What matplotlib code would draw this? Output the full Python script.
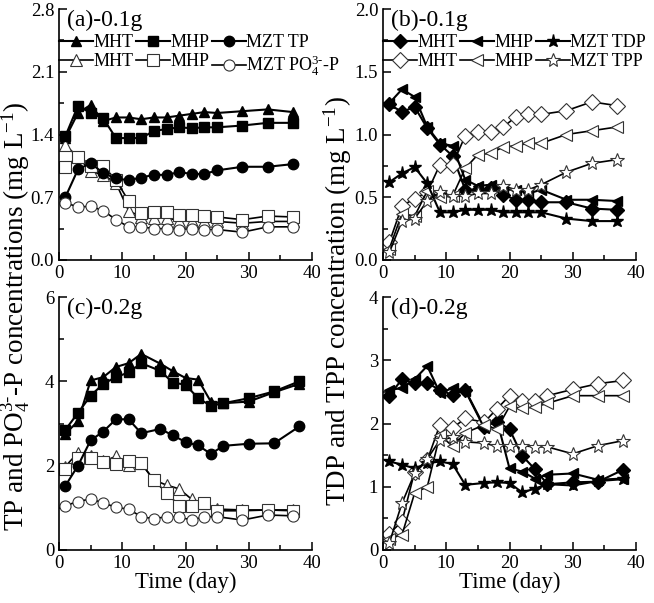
import matplotlib
matplotlib.use('Agg')
import matplotlib.pyplot as plt
from matplotlib.ticker import MultipleLocator

plt.rcParams['font.family'] = ['Liberation Serif', 'DejaVu Serif']
plt.rcParams['mathtext.fontset'] = 'custom'
plt.rcParams['mathtext.rm'] = 'Liberation Serif'
plt.rcParams['mathtext.it'] = 'Liberation Serif:italic'

# days
days_a = [1, 3, 5, 7, 9, 11, 13, 15, 17, 19, 21, 23, 25, 29, 33, 37]
days_c_filled = [1, 3, 5, 7, 9, 11, 13, 16, 18, 20, 22, 24, 26, 30, 34, 38]
days_c_open = [1, 3, 5, 7, 9, 11, 13, 15, 17, 19, 21, 23, 25, 29, 33, 37]
days_d = [1, 3, 5, 7, 9, 11, 13, 16, 18, 20, 22, 24, 26, 30, 34, 38]

# (a) 0.1g: TP (filled) and PO4-P (open)
a_mht_tp = [1.36, 1.64, 1.73, 1.55, 1.59, 1.59, 1.57, 1.59, 1.59, 1.61, 1.63, 1.65, 1.64, 1.66, 1.68, 1.65]
a_mhp_tp = [1.38, 1.72, 1.64, 1.58, 1.36, 1.36, 1.36, 1.44, 1.46, 1.48, 1.47, 1.48, 1.48, 1.50, 1.53, 1.53]
a_mzt_tp = [0.70, 1.01, 1.08, 0.97, 0.91, 0.89, 0.92, 0.95, 0.95, 0.98, 0.96, 0.96, 1.00, 1.04, 1.04, 1.07]
a_mht_po4 = [1.28, 1.15, 0.99, 0.95, 0.86, 0.55, 0.48, 0.47, 0.47, 0.44, 0.44, 0.43, 0.43, 0.41, 0.43, 0.43]
a_mhp_po4 = [1.04, 1.15, 1.05, 1.05, 0.89, 0.66, 0.52, 0.54, 0.54, 0.50, 0.50, 0.49, 0.48, 0.45, 0.49, 0.48]
a_mzt_po4 = [0.64, 0.59, 0.60, 0.55, 0.45, 0.37, 0.37, 0.35, 0.35, 0.34, 0.35, 0.34, 0.34, 0.31, 0.37, 0.37]

# (b) 0.1g: TDP (filled) and TPP (open)
b_mht_tdp = [1.24, 1.18, 1.22, 1.05, 0.92, 0.83, 0.56, 0.56, 0.57, 0.52, 0.48, 0.48, 0.46, 0.46, 0.41, 0.40]
b_mhp_tdp = [1.25, 1.36, 1.30, 1.06, 0.93, 0.91, 0.64, 0.59, 0.60, 0.56, 0.56, 0.53, 0.56, 0.48, 0.48, 0.47]
b_mzt_tdp = [0.62, 0.69, 0.74, 0.61, 0.38, 0.38, 0.40, 0.40, 0.40, 0.38, 0.38, 0.38, 0.38, 0.33, 0.31, 0.31]
b_mht_tpp = [0.14, 0.43, 0.49, 0.54, 0.76, 0.76, 0.99, 1.02, 1.02, 1.06, 1.14, 1.16, 1.16, 1.19, 1.26, 1.23]
b_mhp_tpp = [0.09, 0.37, 0.35, 0.55, 0.50, 0.51, 0.73, 0.84, 0.85, 0.90, 0.91, 0.93, 0.93, 1.00, 1.03, 1.06]
b_mzt_tpp = [0.06, 0.31, 0.33, 0.47, 0.54, 0.51, 0.51, 0.53, 0.53, 0.59, 0.56, 0.56, 0.60, 0.70, 0.77, 0.80]

# (c) 0.2g
c_mht_tp = [2.76, 3.05, 4.02, 4.10, 4.34, 4.43, 4.65, 4.42, 4.24, 4.08, 4.04, 3.52, 3.48, 3.52, 3.74, 3.94]
c_mhp_tp = [2.85, 3.25, 3.66, 3.94, 4.10, 4.21, 4.43, 4.25, 3.97, 3.92, 3.60, 3.42, 3.48, 3.60, 3.76, 4.00]
c_mzt_tp = [1.52, 2.00, 2.60, 2.81, 3.10, 3.10, 2.77, 2.87, 2.72, 2.56, 2.48, 2.28, 2.47, 2.52, 2.53, 2.93]
c_mht_po4 = [1.98, 2.31, 2.22, 2.10, 2.22, 2.02, 2.06, 1.66, 1.54, 1.45, 1.20, 1.11, 0.97, 0.95, 0.95, 0.95]
c_mhp_po4 = [1.92, 2.18, 2.18, 2.08, 2.04, 2.12, 2.06, 1.65, 1.36, 1.05, 1.05, 1.11, 0.93, 0.93, 0.95, 0.93]
c_mzt_po4 = [1.05, 1.15, 1.21, 1.12, 1.01, 0.97, 0.79, 0.74, 0.79, 0.78, 0.71, 0.79, 0.79, 0.71, 0.83, 0.81]

# (d) 0.2g
d_mht_tdp = [2.44, 2.70, 2.64, 2.64, 2.53, 2.45, 2.53, 1.95, 2.03, 1.91, 1.49, 1.28, 1.04, 1.07, 1.08, 1.27]
d_mhp_tdp = [2.53, 2.56, 2.70, 2.91, 2.48, 2.56, 2.52, 1.93, 2.06, 1.29, 1.24, 1.13, 1.19, 1.21, 1.11, 1.13]
d_mzt_tdp = [1.40, 1.35, 1.29, 1.37, 1.40, 1.36, 1.03, 1.06, 1.07, 1.06, 0.91, 0.97, 1.04, 1.02, 1.09, 1.12]
d_mht_tpp = [0.26, 0.45, 1.24, 1.42, 1.98, 1.93, 2.08, 2.02, 2.23, 2.44, 2.35, 2.35, 2.44, 2.54, 2.63, 2.68]
d_mhp_tpp = [0.18, 0.24, 0.90, 1.00, 1.82, 1.64, 1.85, 1.98, 1.91, 2.27, 2.24, 2.26, 2.32, 2.44, 2.44, 2.44]
d_mzt_tpp = [0.11, 0.74, 1.21, 1.44, 1.74, 1.78, 1.71, 1.69, 1.64, 1.65, 1.65, 1.63, 1.63, 1.52, 1.65, 1.73]

labels_a = ['MHT', 'MHP', 'MZT TP', 'MHT', 'MHP', r'MZT PO$_4^{3\text{-}}$-P']
labels_b = ['MHT', 'MHP', 'MZT TDP', 'MHT', 'MHP', 'MZT TPP']

fig = plt.figure(figsize=(6.54, 6.03), dpi=100)
W, H = 654, 603


def make_ax(x0, x1, y0, y1):
    return fig.add_axes([x0 / W, 1 - y1 / H, (x1 - x0) / W, (y1 - y0) / H])


ax_a = make_ax(59, 312, 9, 260)
ax_b = make_ax(383, 636, 9, 260)
ax_c = make_ax(59, 312, 297, 550)
ax_d = make_ax(383, 636, 297, 550)


def draw(ax, xf, xo, filled, opened, markers, labels):
    handles = []
    for (yf, yo, m) in zip(filled, opened, markers):
        ms = 9.5 if m == '*' else 7.5
        h1, = ax.plot(xf, yf, color='black', lw=1.5, marker=m, ms=ms,
                      mfc='black', mec='black')
        h2, = ax.plot(xo, yo, color='black', lw=1.2, marker=m, ms=ms + 0.5,
                      mfc='white', mec='#333333', mew=0.8)
        handles.append((h1, h2))
    # order so filled series go on row 1 and open series on row 2
    hs, ls = [], []
    for i, (h1, h2) in enumerate(handles):
        hs += [h1, h2]
        ls += [labels[i], labels[i + 3]]
    return hs, ls


def add_legend(ax, hs, ls):
    ax.legend(hs, ls, ncol=3, loc='upper left', bbox_to_anchor=(0.0, 0.90),
              frameon=False, fontsize=13, handlelength=1.9, handletextpad=0.0,
              columnspacing=0.15, labelspacing=0.12, borderpad=0,
              borderaxespad=0)


def style(ax, ymax, ymajor, panel):
    ax.set_xlim(0, 40)
    ax.set_ylim(0, ymax)
    ax.xaxis.set_major_locator(MultipleLocator(10))
    ax.xaxis.set_minor_locator(MultipleLocator(5))
    ax.yaxis.set_major_locator(MultipleLocator(ymajor))
    ax.yaxis.set_minor_locator(MultipleLocator(ymajor / 2))
    ax.spines['top'].set_visible(False)
    ax.spines['right'].set_visible(False)
    ax.spines['left'].set_linewidth(1.2)
    ax.spines['bottom'].set_linewidth(1.2)
    ax.tick_params(which='both', direction='in', labelsize=13.5, width=1.1)
    ax.tick_params(which='major', length=6)
    ax.tick_params(which='minor', length=3.5)
    ax.text(0.03, 0.995, panel, transform=ax.transAxes, fontsize=17,
            va='top', ha='left')


filled_m = ['^', 's', 'o']
bm = ['D', '<', '*']

hs, ls = draw(ax_a, days_a, days_a, [a_mht_tp, a_mhp_tp, a_mzt_tp],
              [a_mht_po4, a_mhp_po4, a_mzt_po4], filled_m, labels_a)
add_legend(ax_a, hs, ls)
style(ax_a, 2.8, 0.7, '(a)-0.1g')
ax_a.yaxis.set_major_formatter(plt.FormatStrFormatter('%.1f'))

hs, ls = draw(ax_b, days_a, days_a, [b_mht_tdp, b_mhp_tdp, b_mzt_tdp],
              [b_mht_tpp, b_mhp_tpp, b_mzt_tpp], bm, labels_b)
add_legend(ax_b, hs, ls)
style(ax_b, 2.0, 0.5, '(b)-0.1g')
ax_b.yaxis.set_major_formatter(plt.FormatStrFormatter('%.1f'))

draw(ax_c, days_c_filled, days_c_open, [c_mht_tp, c_mhp_tp, c_mzt_tp],
     [c_mht_po4, c_mhp_po4, c_mzt_po4], filled_m, labels_a)
style(ax_c, 6, 2, '(c)-0.2g')
ax_c.set_xlabel('Time (day)', fontsize=16.5, labelpad=0)

draw(ax_d, days_d, days_d, [d_mht_tdp, d_mhp_tdp, d_mzt_tdp],
     [d_mht_tpp, d_mhp_tpp, d_mzt_tpp], bm, labels_b)
style(ax_d, 4, 1, '(d)-0.2g')
ax_d.set_xlabel('Time (day)', fontsize=16.5, labelpad=0)

fig.text(16 / W, 1 - 316 / H, r'TP and PO$_4^{3\text{-}}$-P concentrations (mg L$^{-1}$)',
         rotation=90, ha='center', va='center', fontsize=19.5)
fig.text(338 / W, 1 - 301 / H, r'TDP and TPP concentration (mg L$^{-1}$)',
         rotation=90, ha='center', va='center', fontsize=19.5)

fig.savefig('out.png', dpi=100)
